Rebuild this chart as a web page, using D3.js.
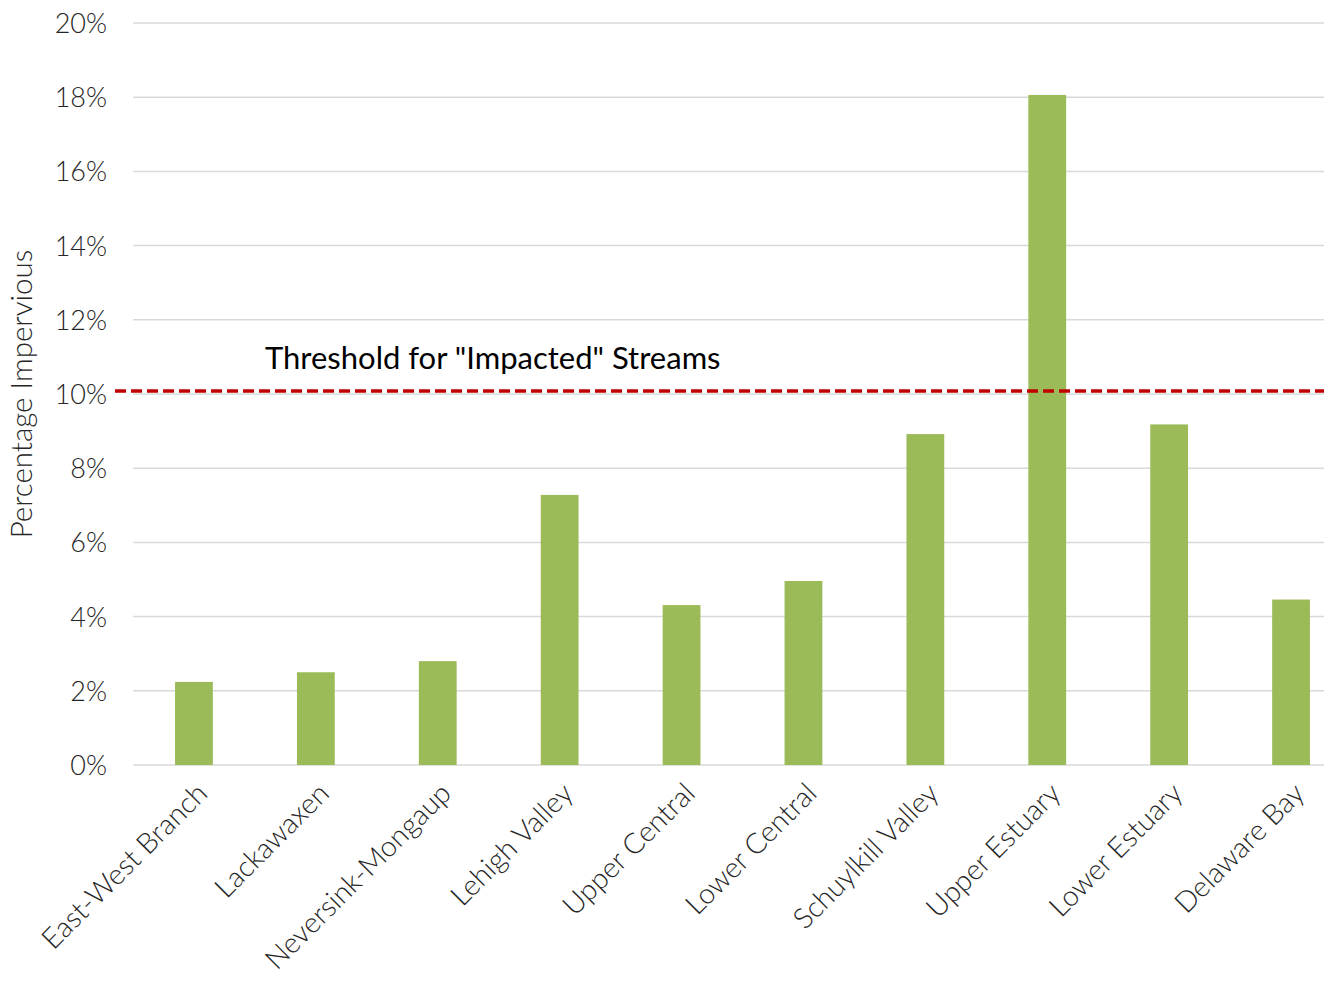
<!DOCTYPE html>
<html><head><meta charset="utf-8">
<script src="https://d3js.org/d3.v7.min.js"></script>
<style>body{margin:0;background:#fff}svg{display:block}</style>
</head><body>
<script>
const categories = ["East-West Branch","Lackawaxen","Neversink-Mongaup","Lehigh Valley","Upper Central","Lower Central","Schuylkill Valley","Upper Estuary","Lower Estuary","Delaware Bay"];
const values = [2.24, 2.5, 2.8, 7.28, 4.31, 4.96, 8.92, 18.06, 9.18, 4.46];
const yTicks = [0,2,4,6,8,10,12,14,16,18,20];
const threshold = 10.08;
const thresholdLabel = 'Threshold for "Impacted" Streams';
const yTitle = "Percentage Impervious";

const W = 1328, H = 983;
const font = "Lato, 'Noto Sans', sans-serif";
const svg = d3.select("body").append("svg").attr("width", W).attr("height", H);

const x = d3.scaleBand().domain(categories).range([133, 1352]).paddingInner(0.69).paddingOuter(0.345);
const y = d3.scaleLinear().domain([0, 20]).range([765, 23]);

// gridlines
svg.append("g").selectAll("line").data(yTicks).join("line")
  .attr("x1", 133).attr("x2", 1324)
  .attr("y1", d => y(d)).attr("y2", d => y(d))
  .attr("stroke", "#d9d9d9").attr("stroke-width", 1.5);

// y axis labels
const yAxis = d3.axisLeft(y).tickValues(yTicks).tickFormat(d => d + "%").tickSize(0).tickPadding(0);
const ga = svg.append("g").attr("transform", "translate(107,0)").call(yAxis);
ga.select(".domain").remove();
ga.selectAll("text").attr("font-family", font).attr("font-size", 27).attr("font-weight", 300).attr("fill", "#262626").attr("dy", "0.35em");

// bars
svg.append("g").selectAll("rect").data(values).join("rect")
  .attr("x", (d, i) => x(categories[i]))
  .attr("width", x.bandwidth())
  .attr("y", d => y(d))
  .attr("height", d => y(0) - y(d))
  .attr("fill", "#9bbb59");

// x labels
svg.append("g").selectAll("text").data(categories).join("text")
  .attr("transform", d => `translate(${x(d) + x.bandwidth()/2 + 1},${781}) rotate(-45)`)
  .attr("text-anchor", "end")
  .attr("dy", "0.7em")
  .attr("font-family", font).attr("font-size", 28.5).attr("font-weight", 300).attr("fill", "#262626")
  .text(d => d);

// threshold
svg.append("line")
  .attr("x1", 115).attr("x2", 1324)
  .attr("y1", y(threshold)).attr("y2", y(threshold))
  .attr("stroke", "#c00000").attr("stroke-width", 3.5).attr("stroke-dasharray", "11,5");
svg.append("text").attr("x", 265).attr("y", y(threshold) - 22)
  .attr("font-family", font).attr("font-size", 31).attr("fill", "#000")
  .text(thresholdLabel);

// y title
svg.append("text").attr("transform", `translate(32,394) rotate(-90)`)
  .attr("text-anchor", "middle")
  .attr("font-family", font).attr("font-size", 29.5).attr("font-weight", 300).attr("fill", "#262626")
  .text(yTitle);
</script>
</body></html>
